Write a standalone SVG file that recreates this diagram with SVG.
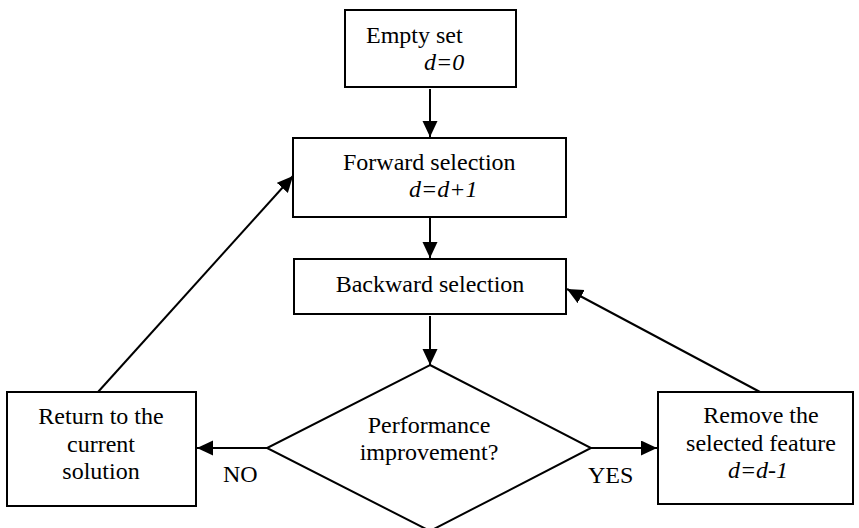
<svg xmlns="http://www.w3.org/2000/svg" width="859" height="528" viewBox="0 0 859 528">
  <style>
    .box { fill: #fff; stroke: #000; stroke-width: 2; }
    .t { font-family: "Liberation Serif", "Times New Roman", serif; font-size: 24px; fill: #000; }
    .i { font-style: italic; }
    .c { text-anchor: middle; }
    .edge-a { stroke: #000; stroke-width: 2; fill: none; marker-end: url(#arrow); }
  </style>
  <defs>
    <marker id="arrow" markerUnits="userSpaceOnUse" markerWidth="18" markerHeight="16" refX="16" refY="7.5" orient="auto">
      <path d="M0,0 L16,7.5 L0,15 Z" fill="#000"/>
    </marker>
  </defs>
  <rect width="859" height="528" fill="#fff"/>

  <g id="connectors">
    <line class="edge-a" x1="430" y1="89" x2="430" y2="137"/>
    <line class="edge-a" x1="430" y1="218" x2="430" y2="258"/>
    <line class="edge-a" x1="430" y1="316" x2="430" y2="365"/>
    <line class="edge-a" x1="267" y1="448" x2="197" y2="448"/>
    <line class="edge-a" x1="591" y1="448" x2="657" y2="448"/>
    <line class="edge-a" x1="98" y1="392" x2="293" y2="176"/>
    <line class="edge-a" x1="760" y1="392" x2="567" y2="289"/>
  </g>

  <g id="empty-set">
    <rect class="box" x="345" y="10" width="171" height="77"/>
    <text class="t" x="366" y="43">Empty set</text>
    <text class="t i" x="424" y="70">d=0</text>
  </g>

  <g id="forward-selection">
    <rect class="box" x="293" y="138" width="273" height="79"/>
    <text class="t" x="343" y="170">Forward selection</text>
    <text class="t i" x="409" y="197">d=d+1</text>
  </g>

  <g id="backward-selection">
    <rect class="box" x="294" y="259" width="272" height="55"/>
    <text class="t c" x="430" y="292">Backward selection</text>
  </g>

  <g id="performance-check">
    <polygon class="box" points="430,365 591,448 430,531 267,448"/>
    <text class="t c" x="429" y="433">Performance</text>
    <text class="t c" x="429" y="460">improvement?</text>
  </g>

  <g id="return-current">
    <rect class="box" x="7" y="392" width="189" height="114"/>
    <text class="t c" x="101" y="424">Return to the</text>
    <text class="t c" x="101" y="452">current</text>
    <text class="t c" x="101" y="479">solution</text>
  </g>

  <g id="remove-feature">
    <rect class="box" x="658" y="392" width="195" height="112"/>
    <text class="t c" x="761" y="423">Remove the</text>
    <text class="t c" x="761" y="451">selected feature</text>
    <text class="t c i" x="758" y="478">d=d-1</text>
  </g>

  <g id="edge-labels">
    <text class="t" x="223" y="482">NO</text>
    <text class="t" x="588" y="483">YES</text>
  </g>
</svg>
